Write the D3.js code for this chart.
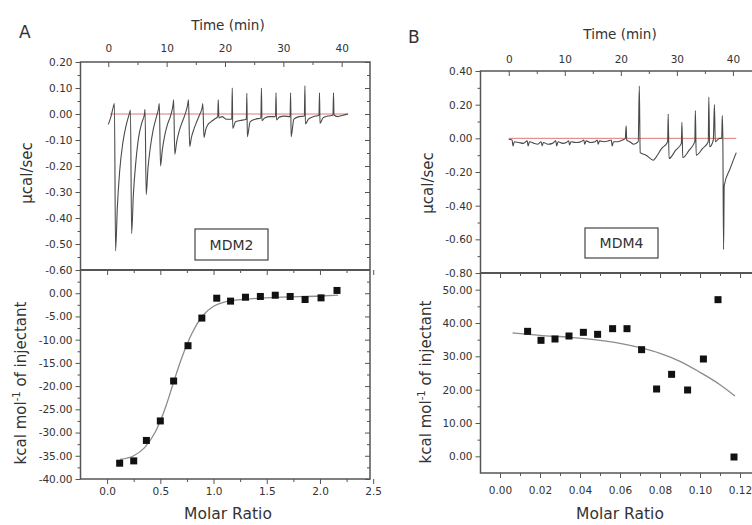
<!DOCTYPE html>
<html>
<head>
<meta charset="utf-8">
<script src="https://cdn.jsdelivr.net/npm/d3@7"></script>
<style>
  body { margin: 0; background: #fff; }
  svg { display: block; }
  text { font-family: "DejaVu Sans", sans-serif; fill: #333; }
</style>
</head>
<body>
<svg id="chart" width="752" height="525"></svg>
<script>
// ---- data ----

// panel A (MDM2) raw thermogram, [time min, µcal/sec]
const thermoA = [
  [0.0, -0.04], [0.4, -0.015], [0.9, 0.03], [1.05, 0.04],
  [1.25, -0.526], [1.55, -0.36], [1.95, -0.22], [2.5, -0.11], [3.1, -0.04], [3.6, 0.0], [3.8, 0.015],
  [4.0, -0.46], [4.3, -0.31], [4.7, -0.19], [5.2, -0.09], [5.8, -0.03], [6.2, 0.0], [6.3, 0.018],
  [6.5, -0.31], [6.8, -0.21], [7.2, -0.13], [7.7, -0.06], [8.2, -0.015], [8.6, 0.02], [8.75, 0.04],
  [8.95, -0.20], [9.25, -0.14], [9.65, -0.085], [10.15, -0.04], [10.7, -0.005], [11.1, 0.035], [11.2, 0.055],
  [11.4, -0.155], [11.7, -0.11], [12.1, -0.07], [12.6, -0.035], [13.1, -0.005], [13.6, 0.035], [13.75, 0.055],
  [13.95, -0.125], [14.25, -0.09], [14.65, -0.06], [15.15, -0.03], [15.7, 0.0], [16.1, 0.025], [16.2, 0.04],
  [16.4, -0.09], [16.7, -0.06], [17.1, -0.04], [17.6, -0.03], [18.2, -0.02], [18.75, -0.01],
  [18.85, 0.055], [18.95, -0.015], [19.5, -0.01], [20.2, -0.02], [21.15, -0.02],
  [21.25, 0.10], [21.33, -0.055], [21.8, -0.03], [22.6, -0.025], [23.65, -0.02],
  [23.75, 0.08], [23.83, -0.087], [24.3, -0.03], [25.2, -0.02], [26.15, -0.015],
  [26.25, 0.10], [26.33, -0.026], [26.8, -0.015], [27.7, -0.01], [28.65, -0.01],
  [28.75, 0.082], [28.83, -0.023], [29.3, -0.012], [30.2, -0.008], [31.15, -0.01],
  [31.25, 0.082], [31.33, -0.087], [31.8, -0.02], [32.7, -0.01], [33.6, -0.008],
  [33.7, 0.108], [33.78, -0.038], [34.3, -0.02], [35.2, -0.01], [36.1, -0.005],
  [36.2, 0.082], [36.28, -0.036], [36.8, -0.015], [37.6, -0.008], [38.5, -0.005],
  [38.6, 0.082], [38.68, -0.004], [39.3, -0.01], [40.2, -0.005], [41.1, 0.0]
];
const baselineA = [[0.3, 0], [41.1, 0]];

// panel A integrated heats
const ratioA = [0.118, 0.25, 0.369, 0.50, 0.625, 0.76, 0.89, 1.03, 1.16, 1.30, 1.44, 1.58, 1.72, 1.86, 2.01, 2.16];
const heatA  = [-36.6, -36.1, -31.7, -27.5, -18.9, -11.3, -5.35, -1.07, -1.7, -0.86, -0.7, -0.43, -0.7, -1.35, -1.0, 0.6];
const fitRatioA = [0.12, 0.25, 0.35, 0.45, 0.55, 0.62, 0.70, 0.80, 0.90, 1.00, 1.10, 1.30, 1.60, 2.00, 2.17];
const fitHeatA  = [-35.8, -35.0, -33.3, -30.0, -24.5, -19.5, -14.0, -8.5, -4.8, -2.8, -1.9, -1.3, -0.9, -0.6, -0.4];

// panel B (MDM4) raw thermogram
const thermoB = [
  [0.0, -0.005], [0.6, -0.01],
  [0.75, -0.045], [1.0, -0.02], [1.8, -0.025], [2.6, -0.03], [3.3, -0.015],
  [3.45, -0.045], [3.7, -0.02], [4.5, -0.03], [5.2, -0.035], [5.8, -0.02],
  [5.95, -0.045], [6.2, -0.025], [7.0, -0.035], [7.8, -0.03], [8.4, -0.015],
  [8.55, -0.045], [8.8, -0.02], [9.6, -0.03], [10.3, -0.025], [10.7, -0.015],
  [10.85, -0.04], [11.1, -0.02], [12.0, -0.025], [12.9, -0.02], [13.4, -0.01],
  [13.55, -0.035], [13.8, -0.015], [14.6, -0.025], [15.4, -0.02], [15.8, -0.01],
  [15.95, -0.035], [16.2, -0.015], [17.0, -0.02], [17.8, -0.015], [18.3, -0.01],
  [18.45, -0.045], [18.7, -0.02], [19.5, -0.02], [20.3, -0.01], [20.8, 0.0],
  [20.95, 0.075], [21.05, -0.01], [21.6, -0.02], [22.3, -0.035], [23.1, -0.02],
  [23.3, 0.31], [23.45, -0.085], [24.5, -0.10], [25.8, -0.13], [26.1, -0.12], [27.3, -0.06], [28.35, -0.02],
  [28.45, 0.145], [28.6, -0.12], [29.8, -0.07], [30.8, -0.03],
  [30.9, 0.095], [31.05, -0.115], [32.2, -0.07], [33.2, -0.02],
  [33.3, 0.165], [33.45, -0.10], [34.6, -0.06], [35.6, -0.02],
  [35.7, 0.245], [35.85, -0.05], [36.5, -0.01],
  [36.7, 0.20], [36.85, -0.02], [37.6, 0.0], [38.0, 0.0],
  [38.1, 0.135], [38.2, 0.0], [38.33, -0.66], [38.45, -0.28], [39.5, -0.18], [40.6, -0.085]
];
const baselineB = [[0.0, 0], [40.6, 0]];

// panel B integrated heats
const ratioB = [0.0138, 0.0205, 0.0275, 0.0345, 0.0417, 0.0488, 0.0563, 0.0635, 0.0708, 0.0783, 0.0858, 0.0938, 0.1017, 0.109, 0.117];
const heatB  = [37.5, 34.8, 35.2, 36.1, 37.2, 36.6, 38.3, 38.3, 32.0, 20.2, 24.6, 19.9, 29.2, 47.0, -0.2];
const fitRatioB = [0.0063, 0.02, 0.035, 0.05, 0.06, 0.07, 0.08, 0.09, 0.10, 0.11, 0.1175];
const fitHeatB  = [37.0, 36.3, 35.7, 34.8, 33.9, 32.6, 30.9, 28.5, 25.2, 21.5, 18.1];

// tick values
const timeMajors = [0, 10, 20, 30, 40];
const timeMinorsA = [5, 15, 25, 35];
const timeMinorsB = [5, 15, 25, 35, 45];
const rateMajorsA = [0.2, 0.1, 0.0, -0.1, -0.2, -0.3, -0.4, -0.5, -0.6];
const rateMinorsA = [0.15, 0.05, -0.05, -0.15, -0.25, -0.35, -0.45, -0.55];
const heatMajorsA = [0, -5, -10, -15, -20, -25, -30, -35, -40];
const heatMinorsA = [2.5, -2.5, -7.5, -12.5, -17.5, -22.5, -27.5, -32.5, -37.5];
const ratioMajorsA = [0, 0.5, 1.0, 1.5, 2.0, 2.5];
const ratioMinorsA = [0.25, 0.75, 1.25, 1.75, 2.25];
const rateMajorsB = [0.4, 0.2, 0.0, -0.2, -0.4, -0.6, -0.8];
const rateMinorsB = [0.3, 0.1, -0.1, -0.3, -0.5, -0.7];
const heatMajorsB = [0, 10, 20, 30, 40, 50];
const heatMinorsB = [5, 15, 25, 35, 45];
const ratioMajorsB = [0, 0.02, 0.04, 0.06, 0.08, 0.10, 0.12];
const ratioMinorsB = [0.01, 0.03, 0.05, 0.07, 0.09, 0.11, 0.13];

// ---- layout ----
const svg = d3.select('#chart');
const ink = '#555';

const panels = [
  {
    letter: 'A', letterX: 19, letterY: 38, name: 'MDM2',
    left: 80.5, right: 370, top: 62, mid: 270, bottom: 479,
    t: d3.scaleLinear().domain([-4.76, 44.85]).range([80.5, 370]),
    r: d3.scaleLinear().domain([-0.6, 0.2]).range([270, 62]),
    m: d3.scaleLinear().domain([-0.25, 2.47]).range([80.5, 370]),
    h: d3.scaleLinear().domain([-40, 5]).range([479, 270]),
    thermo: thermoA, base: baselineA,
    ratio: ratioA, heat: heatA, fitRatio: fitRatioA, fitHeat: fitHeatA,
    timeMinors: timeMinorsA,
    rateMajors: rateMajorsA, rateMinors: rateMinorsA,
    heatMajors: heatMajorsA, heatMinors: heatMinorsA,
    ratioMajors: ratioMajorsA, ratioMinors: ratioMinorsA, ratioDigits: 1,
    timeTitle: [228, 30], topLabelPad: 10, bottomLabelPad: 4,
    rateTitle: [32, 173], heatTitle: [26, 383], molarTitle: [228, 519],
    box: [195, 229, 73, 31]
  },
  {
    letter: 'B', letterX: 408, letterY: 43, name: 'MDM4',
    left: 480.5, right: 790, top: 71, mid: 273, bottom: 473,
    t: d3.scaleLinear().domain([-5.04, 48.4]).range([480.5, 780]),
    r: d3.scaleLinear().domain([-0.8, 0.4]).range([273, 71]),
    m: d3.scaleLinear().domain([-0.00975, 0.14]).range([480.5, 780]),
    h: d3.scaleLinear().domain([-5, 55]).range([473, 273]),
    thermo: thermoB, base: baselineB,
    ratio: ratioB, heat: heatB, fitRatio: fitRatioB, fitHeat: fitHeatB,
    timeMinors: timeMinorsB,
    rateMajors: rateMajorsB, rateMinors: rateMinorsB,
    heatMajors: heatMajorsB, heatMinors: heatMinorsB,
    ratioMajors: ratioMajorsB, ratioMinors: ratioMinorsB, ratioDigits: 2,
    timeTitle: [620, 38.5], topLabelPad: 8.5, bottomLabelPad: 9,
    rateTitle: [433, 183], heatTitle: [431, 382], molarTitle: [620, 519],
    box: [585, 228, 73, 30]
  }
];

function styleAxis(g) {
  g.select('.domain').remove();
  g.attr('font-family', null).attr('font-size', null);
  g.selectAll('.tick line').attr('stroke', ink).attr('stroke-width', 1);
  g.selectAll('.tick text').attr('fill', '#333').style('font-size', '10.5px');
}

function addAxis(p, axis, tx, ty) {
  p.append('g').attr('transform', `translate(${tx},${ty})`).call(axis).call(styleAxis);
}

function drawPanel(d) {
  const g = svg.append('g');
  const fix = n => v => v.toFixed(n);

  // thermogram: baseline + trace
  const line = d3.line().x(p => d.t(p[0])).y(p => d.r(p[1]));
  g.append('path').attr('d', line(d.base))
    .attr('fill', 'none').attr('stroke', '#e07a7a').attr('stroke-width', 1);
  g.append('path').attr('d', line.curve(d3.curveMonotoneX)(d.thermo))
    .attr('fill', 'none').attr('stroke', '#4a4a4a').attr('stroke-width', 1.1);

  // fit curve and points
  const fit = d3.line().curve(d3.curveMonotoneX)
    .x((v, i) => d.m(d.fitRatio[i])).y(v => d.h(v));
  g.append('path').attr('d', fit(d.fitHeat))
    .attr('fill', 'none').attr('stroke', '#8c8c8c').attr('stroke-width', 1.3);
  g.selectAll('rect.pt').data(d.heat).enter().append('rect')
    .attr('class', 'pt')
    .attr('x', (v, i) => d.m(d.ratio[i]) - 3.5)
    .attr('y', v => d.h(v) - 3.5)
    .attr('width', 7).attr('height', 7)
    .attr('fill', '#111');

  // top time axis
  addAxis(g, d3.axisTop(d.t).tickValues(timeMajors).tickSize(0).tickPadding(d.topLabelPad), 0, d.top);
  addAxis(g, d3.axisBottom(d.t).tickValues(timeMajors).tickSize(5).tickFormat(''), 0, d.top);
  addAxis(g, d3.axisBottom(d.t).tickValues(d.timeMinors).tickSize(3).tickFormat(''), 0, d.top);

  // upper y axes
  addAxis(g, d3.axisLeft(d.r).tickValues(d.rateMajors).tickSize(5).tickPadding(3).tickFormat(fix(2)), d.left, 0);
  addAxis(g, d3.axisLeft(d.r).tickValues(d.rateMinors).tickSize(3).tickFormat(''), d.left, 0);
  addAxis(g, d3.axisLeft(d.r).tickValues(d.rateMajors).tickSize(5).tickFormat(''), d.right, 0);
  addAxis(g, d3.axisLeft(d.r).tickValues(d.rateMinors).tickSize(3).tickFormat(''), d.right, 0);

  // lower y axes
  addAxis(g, d3.axisLeft(d.h).tickValues(d.heatMajors).tickSize(5).tickPadding(3).tickFormat(fix(2)), d.left, 0);
  addAxis(g, d3.axisLeft(d.h).tickValues(d.heatMinors).tickSize(3).tickFormat(''), d.left, 0);
  addAxis(g, d3.axisLeft(d.h).tickValues(d.heatMajors).tickSize(5).tickFormat(''), d.right, 0);
  addAxis(g, d3.axisLeft(d.h).tickValues(d.heatMinors).tickSize(3).tickFormat(''), d.right, 0);

  // molar ratio axes: bottom (outward, labelled) and the shared middle line (inward)
  addAxis(g, d3.axisBottom(d.m).tickValues(d.ratioMajors).tickSize(5).tickPadding(d.bottomLabelPad).tickFormat(fix(d.ratioDigits)), 0, d.bottom);
  addAxis(g, d3.axisBottom(d.m).tickValues(d.ratioMinors).tickSize(3).tickFormat(''), 0, d.bottom);
  addAxis(g, d3.axisBottom(d.m).tickValues(d.ratioMajors).tickSize(5).tickFormat(''), 0, d.mid);
  addAxis(g, d3.axisBottom(d.m).tickValues(d.ratioMinors).tickSize(3).tickFormat(''), 0, d.mid);

  // frames
  g.append('rect').attr('x', d.left).attr('y', d.top)
    .attr('width', d.right - d.left).attr('height', d.bottom - d.top)
    .attr('fill', 'none').attr('stroke', ink).attr('stroke-width', 1.5);
  g.append('line').attr('x1', d.left).attr('x2', d.right).attr('y1', d.mid).attr('y2', d.mid)
    .attr('stroke', ink).attr('stroke-width', 1.8);

  // sample box
  const [bx, by, bw, bh] = d.box;
  g.append('rect').attr('x', bx).attr('y', by).attr('width', bw).attr('height', bh)
    .attr('fill', '#fff').attr('stroke', '#444').attr('stroke-width', 1.2);
  g.append('text').attr('x', bx + bw / 2).attr('y', by + bh / 2 + 5)
    .attr('text-anchor', 'middle').style('font-size', '14px').text(d.name);

  // titles
  g.append('text').attr('x', d.letterX).attr('y', d.letterY)
    .style('font-size', '17px').text(d.letter);
  g.append('text').attr('x', d.timeTitle[0]).attr('y', d.timeTitle[1])
    .attr('text-anchor', 'middle').style('font-size', '13.5px').text('Time (min)');
  g.append('text').attr('x', d.molarTitle[0]).attr('y', d.molarTitle[1])
    .attr('text-anchor', 'middle').style('font-size', '15.5px').text('Molar Ratio');
  g.append('text')
    .attr('transform', `translate(${d.rateTitle[0]},${d.rateTitle[1]}) rotate(-90)`)
    .attr('text-anchor', 'middle').style('font-size', '15px').text('µcal/sec');
  const ht = g.append('text')
    .attr('transform', `translate(${d.heatTitle[0]},${d.heatTitle[1]}) rotate(-90)`)
    .attr('text-anchor', 'middle').style('font-size', '15px');
  ht.append('tspan').text('kcal mol');
  ht.append('tspan').attr('dy', -6).style('font-size', '10px').text('-1');
  ht.append('tspan').attr('dy', 6).text(' of injectant');
}

panels.forEach(drawPanel);
</script>
</body>
</html>
